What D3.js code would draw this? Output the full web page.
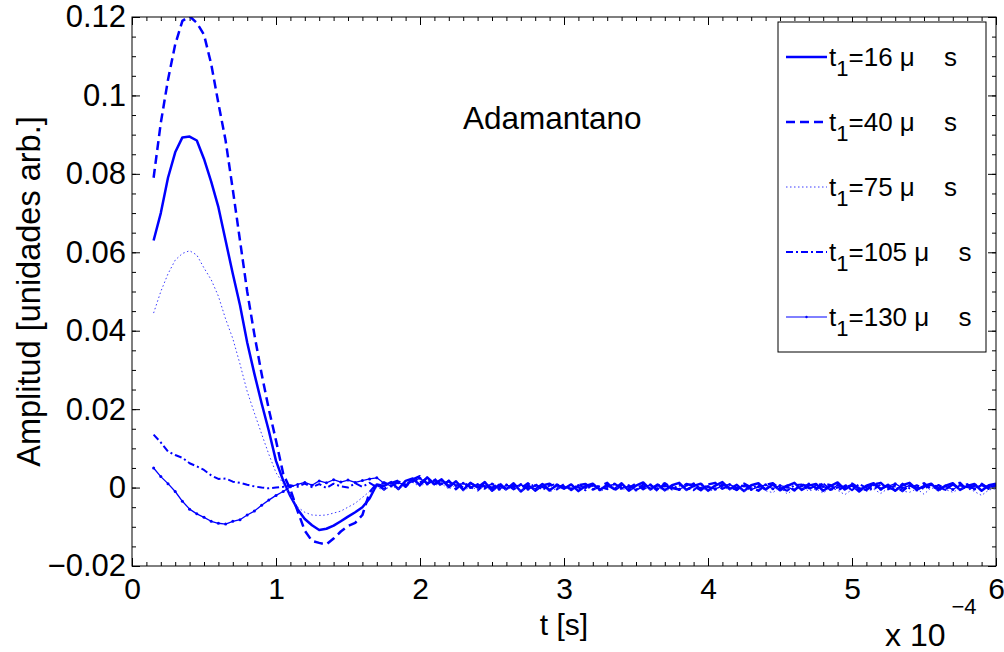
<!DOCTYPE html>
<html>
<head>
<meta charset="utf-8">
<script src="https://cdn.jsdelivr.net/npm/d3@7"></script>
<style>
  body { margin: 0; background: #fff; }
  text { font-family: "Liberation Sans", Arial, Helvetica, sans-serif; }
</style>
</head>
<body>
<div id="chart"></div>
<script>
// sample times (units of 1e-4 s)
const times = [
  0.15, 0.20, 0.25, 0.30, 0.35, 0.40, 0.45, 0.50, 0.55, 0.60,
  0.65, 0.70, 0.75, 0.80, 0.85, 0.90, 0.95, 1.00, 1.05, 1.10,
  1.15, 1.20, 1.25, 1.30, 1.35, 1.40, 1.45, 1.50, 1.55, 1.60,
  1.65, 1.70, 1.75, 1.80, 1.85, 1.90, 1.95, 2.00, 2.05, 2.10,
  2.15, 2.20, 2.25, 2.30, 2.35, 2.40, 2.45, 2.50, 2.55, 2.60,
  2.65, 2.70, 2.75, 2.80, 2.85, 2.90, 2.95, 3.00, 3.05, 3.10,
  3.15, 3.20, 3.25, 3.30, 3.35, 3.40, 3.45, 3.50, 3.55, 3.60,
  3.65, 3.70, 3.75, 3.80, 3.85, 3.90, 3.95, 4.00, 4.05, 4.10,
  4.15, 4.20, 4.25, 4.30, 4.35, 4.40, 4.45, 4.50, 4.55, 4.60,
  4.65, 4.70, 4.75, 4.80, 4.85, 4.90, 4.95, 5.00, 5.05, 5.10,
  5.15, 5.20, 5.25, 5.30, 5.35, 5.40, 5.45, 5.50, 5.55, 5.60,
  5.65, 5.70, 5.75, 5.80, 5.85, 5.90, 5.95, 6.00
];

const amp16 = [
  .063, .070, .079, .0855, .0893, .0895, .0885, .0838, .078, .0715,
  .063, .0545, .0465, .037, .029, .0215, .0145, .0068, .0018, -.0022,
  -.0055, -.0080, -.0096, -.0108, -.0105, -.0097, -.0086, -.0074, -.0063, -.0050,
  -.0028, .0008, .0004, .0014, -.0004, .0017, .0023, .0006, .0026, .0009,
  .0021, .0001, .0016, -.0006, .0012, .0000, .0014, -.0008, .0007, -.0004,
  .0011, -.0010, .0005, -.0005, .0009, -.0007, .0006, -.0003, .0008, -.0009,
  .0004, .0010, -.0006, .0007, -.0004, .0011, -.0008, .0005, .0013, -.0005,
  .0008, -.0007, .0006, .0012, -.0006, .0004, .0010, -.0008, .0005, .0014,
  -.0004, .0007, -.0009, .0006, .0011, -.0005, .0008, -.0007, .0004, .0012,
  -.0006, .0005, .0009, -.0008, .0004, .0013, -.0005, .0006, -.0010, .0005,
  .0011, -.0004, .0007, -.0008, .0006, .0012, -.0005, .0004, .0010, -.0007,
  .0005, .0011, -.0006, .0004, .0009, -.0008, .0006, .0010
];

const amp40 = [
  .079, .093, .104, .113, .119, .1202, .1185, .1155, .108, .098,
  .0885, .076, .063, .050, .039, .029, .020, .012, .0035, -.0005,
  -.0060, -.0110, -.0136, -.0141, -.0145, -.0130, -.0112, -.0098, -.0090, -.0070,
  -.0012, .0010, -.0005, .0011, .0018, .0002, .0021, .0029, .0010, .0022,
  .0004, .0017, -.0004, .0013, .0002, -.0007, .0010, -.0001, .0012, -.0006,
  .0007, -.0002, .0011, -.0008, .0005, .0010, -.0004, .0008, -.0006, .0006,
  .0009, -.0005, .0004, .0012, -.0007, .0006, -.0001, .0010, -.0004, .0007,
  -.0008, .0011, -.0001, -.0005, .0009, .0005, -.0007, .0008, .0012, -.0003,
  .0006, -.0006, .0010, .0000, -.0008, .0007, .0011, -.0004, .0005, -.0007,
  .0009, -.0001, -.0005, .0011, .0006, -.0008, .0004, .0010, -.0002, -.0006,
  .0008, .0012, -.0004, .0005, -.0009, .0007, -.0001, .0011, -.0005, .0006,
  -.0004, .0008, .0012, -.0007, .0005, .0010, -.0003, .0007
];

const amp75 = [
  .0445, .050, .0545, .058, .0597, .0604, .0593, .056, .053, .0488,
  .043, .038, .0315, .0245, .019, .0137, .0085, .0038, .0010, -.0020,
  -.0050, -.0063, -.0070, -.0071, -.0070, -.0065, -.0060, -.0050, -.0040, -.0025,
  -.0010, .0000, -.0006, .0004, -.0003, .0008, .0013, .0002, .0016, .0006,
  .0010, -.0004, .0007, -.0008, .0002, -.0005, .0004, -.0010, .0001, -.0006,
  .0003, -.0009, .0000, -.0005, .0004, -.0011, -.0002, .0002, -.0007, .0001,
  -.0004, .0003, -.0010, -.0001, .0005, -.0006, .0000, -.0008, .0002, -.0005,
  .0001, -.0009, -.0002, .0004, -.0007, -.0001, .0003, -.0011, -.0003, .0002,
  -.0006, .0000, -.0010, -.0002, .0003, -.0008, -.0013, .0001, -.0016, -.0004,
  .0002, -.0009, -.0003, -.0014, .0000, -.0007, -.0018, -.0005, .0001, -.0010,
  -.0004, -.0015, -.0002, .0002, -.0009, -.0012, -.0003, -.0017, .0000, -.0008,
  -.0005, -.0012, -.0002, .0001, -.0010, -.0020, -.0006, -.0003
];

const amp105 = [
  .0135, .0115, .0092, .0083, .0076, .0062, .0054, .0045, .0031, .0022,
  .0023, .0015, .0012, .0007, .0003, .0000, -.0002, .0000, .0002, .0006,
  .0002, .0010, .0001, .0009, -.0001, .0010, .0003, .0000, .0011, .0002,
  .0012, .0001, .0014, .0004, .0016, .0007, .0022, .0013, .0024, .0008,
  .0018, .0005, .0014, .0000, .0011, .0003, -.0003, .0010, .0001, .0008,
  -.0005, .0007, -.0001, .0010, -.0006, .0005, .0009, -.0002, .0007, .0000,
  -.0007, .0008, .0001, -.0004, .0010, -.0001, .0006, -.0006, .0008, -.0002,
  .0005, .0011, -.0005, .0007, .0000, -.0007, .0009, .0001, -.0003, .0008,
  .0000, -.0006, .0009, -.0002, .0007, -.0005, .0010, -.0001, -.0008, .0006,
  .0008, -.0004, .0005, .0011, -.0006, .0000, .0007, -.0007, .0009, -.0001,
  -.0005, .0008, .0000, -.0007, .0010, -.0002, .0006, -.0004, .0008, .0001,
  -.0006, .0007, -.0001, .0009, -.0005, .0006, -.0003, .0008
];

const amp130 = [
  .0050, .0028, .0010, -.0010, -.0035, -.0055, -.0067, -.0076, -.0086, -.0091,
  -.0093, -.0086, -.0082, -.0070, -.0060, -.0045, -.0032, -.0020, -.0010, .0002,
  .0008, .0013, .0006, .0017, .0012, .0020, .0014, .0019, .0013, .0018,
  .0022, .0025, .0011, .0004, .0012, .0007, .0016, .0024, .0009, .0018,
  .0010, .0017, .0005, .0011, .0000, .0008, .0003, .0009, -.0004, .0006,
  .0001, .0008, -.0004, .0005, .0002, -.0006, .0007, .0002, -.0003, .0005,
  .0000, .0006, -.0005, .0003, .0009, -.0002, .0004, -.0006, .0002, .0007,
  -.0003, .0004, .0001, -.0005, .0006, .0010, -.0002, .0003, -.0004, .0005,
  .0008, -.0001, .0004, -.0005, .0002, .0007, -.0003, .0005, .0001, -.0006,
  .0004, .0009, -.0002, .0003, -.0005, .0006, .0001, .0008, -.0003, .0002,
  .0007, -.0004, .0003, .0010, -.0001, .0005, -.0006, .0002, .0007, -.0002,
  .0004, -.0005, .0006, .0002, -.0003, .0008, .0001, .0005
];

const seriesNames = ["16", "40", "75", "105", "130"];
const xTicks = [0, 1, 2, 3, 4, 5, 6];
const xTickLabels = ["0", "1", "2", "3", "4", "5", "6"];
const yTicks = [-0.02, 0, 0.02, 0.04, 0.06, 0.08, 0.1, 0.12];
const yTickLabels = ["\u22120.02", "0", "0.02", "0.04", "0.06", "0.08", "0.1", "0.12"];

const W = 1004, H = 652;
const margin = { top: 17, right: 8, bottom: 86, left: 132 };
const width = W - margin.left - margin.right;
const height = H - margin.top - margin.bottom;

const svg = d3.select("#chart").append("svg")
  .attr("width", W)
  .attr("height", H);

const g = svg.append("g")
  .attr("transform", "translate(" + margin.left + "," + margin.top + ")");

const x = d3.scaleLinear().domain([0, 6]).range([0, width]);
const y = d3.scaleLinear().domain([-0.02, 0.12]).range([height, 0]);

const styles = [
  { w: 2.5, dash: null, color: "#0000ff" },
  { w: 2.5, dash: "9,5", color: "#0000ff" },
  { w: 1, dash: "1.5,2.5", color: "#3a3aff" },
  { w: 2, dash: "7,3,2,3", color: "#0000ff" },
  { w: 1.3, dash: null, color: "#0000ff", dots: true }
];

const allAmps = [amp16, amp40, amp75, amp105, amp130];
const series = allAmps.map((a, i) => ({
  name: seriesNames[i],
  style: styles[i],
  values: times.map((t, j) => [t, a[j]]).filter(d => d[1] !== undefined)
}));

// ticks: minor then major, all pointing inward, on all four sides
const minorX = d3.range(0, 6.001, 0.1);
const minorY = d3.range(-0.02, 0.1201, 0.005);

function styleAxis(sel, size) {
  sel.attr("font-size", null).attr("font-family", null);
  sel.select(".domain").remove();
  sel.selectAll("line").attr("stroke", "#000");
  sel.selectAll("text")
    .attr("fill", "#000")
    .style("font-size", (size || 31) + "px")
    .style("font-family", "'Liberation Sans', Arial, Helvetica, sans-serif");
}

g.append("g").attr("transform", "translate(0," + height + ")")
  .call(d3.axisBottom(x).tickValues(minorX).tickFormat("").tickSizeInner(-4).tickSizeOuter(0))
  .call(styleAxis);
g.append("g")
  .call(d3.axisTop(x).tickValues(minorX).tickFormat("").tickSizeInner(-4).tickSizeOuter(0))
  .call(styleAxis);
g.append("g")
  .call(d3.axisLeft(y).tickValues(minorY).tickFormat("").tickSizeInner(-4).tickSizeOuter(0))
  .call(styleAxis);
g.append("g").attr("transform", "translate(" + width + ",0)")
  .call(d3.axisRight(y).tickValues(minorY).tickFormat("").tickSizeInner(-4).tickSizeOuter(0))
  .call(styleAxis);

g.append("g").attr("transform", "translate(0," + height + ")")
  .call(d3.axisBottom(x).tickValues(xTicks).tickFormat((d, i) => xTickLabels[i])
    .tickSizeInner(-8).tickSizeOuter(0).tickPadding(12))
  .call(styleAxis, 30);
g.append("g")
  .call(d3.axisTop(x).tickValues(xTicks).tickFormat("").tickSizeInner(-8).tickSizeOuter(0))
  .call(styleAxis);
g.append("g")
  .call(d3.axisLeft(y).tickValues(yTicks).tickFormat((d, i) => yTickLabels[i])
    .tickSizeInner(-8).tickSizeOuter(0).tickPadding(6))
  .call(styleAxis, 31);
g.append("g").attr("transform", "translate(" + width + ",0)")
  .call(d3.axisRight(y).tickValues(yTicks).tickFormat("").tickSizeInner(-8).tickSizeOuter(0))
  .call(styleAxis);

g.append("defs").append("clipPath").attr("id", "plotclip")
  .append("rect").attr("width", width).attr("height", height);

const line = d3.line()
  .x(d => x(d[0]))
  .y(d => y(d[1]));

const plot = g.append("g").attr("clip-path", "url(#plotclip)");

plot.selectAll("path.series")
  .data(series)
  .join("path")
  .attr("class", "series")
  .attr("fill", "none")
  .attr("stroke", d => d.style.color)
  .attr("stroke-width", d => d.style.w)
  .attr("stroke-dasharray", d => d.style.dash)
  .attr("stroke-linejoin", "round")
  .attr("d", d => line(d.values));

// dot markers for the last series
plot.append("g")
  .selectAll("circle")
  .data(series[4].values)
  .join("circle")
  .attr("cx", d => x(d[0]))
  .attr("cy", d => y(d[1]))
  .attr("r", 1.5)
  .attr("fill", "#0000ff");

// box
g.append("rect")
  .attr("width", width)
  .attr("height", height)
  .attr("fill", "none")
  .attr("stroke", "#000")
  .attr("stroke-width", 1);

// annotation
g.append("text")
  .attr("x", 463 - margin.left)
  .attr("y", 129 - margin.top)
  .attr("font-size", 31.5)
  .text("Adamantano");

// axis labels
svg.append("text")
  .attr("x", margin.left + width / 2)
  .attr("y", 635)
  .attr("text-anchor", "middle")
  .attr("font-size", 30)
  .text("t [s]");

svg.append("text")
  .attr("transform", "translate(40," + (margin.top + height / 2) + ") rotate(-90)")
  .attr("text-anchor", "middle")
  .attr("font-size", 32.5)
  .text("Amplitud [unidades arb.]");

const expo = svg.append("text")
  .attr("x", 885)
  .attr("y", 646)
  .attr("font-size", 32);
expo.append("tspan").text("x 10");
expo.append("tspan").attr("dx", 6).attr("dy", -32).attr("font-size", 22).text("\u22124");

// legend
const legend = svg.append("g").attr("transform", "translate(778,22)");
legend.append("rect")
  .attr("width", 208)
  .attr("height", 330)
  .attr("fill", "#fff")
  .attr("stroke", "#000")
  .attr("stroke-width", 1);

const rows = legend.selectAll("g.row")
  .data(series)
  .join("g")
  .attr("class", "row")
  .attr("transform", (d, i) => "translate(0," + (35 + i * 65) + ")");

rows.append("line")
  .attr("x1", 8).attr("x2", 49)
  .attr("stroke", d => d.style.color)
  .attr("stroke-width", d => d.style.dots ? 1 : d.style.w)
  .attr("stroke-dasharray", d => d.style.dash);

rows.filter(d => d.style.dots).append("circle")
  .attr("cx", 28.5).attr("r", 1.2).attr("fill", "#0000ff");

const lt = rows.append("text")
  .attr("x", 51)
  .attr("y", 9)
  .attr("font-size", 26);
lt.append("tspan").text("t");
lt.append("tspan").attr("font-size", 22).attr("dy", 10).text("1");
lt.append("tspan").attr("dy", -10).text(d => "=" + d.name + " \u03bc");
rows.append("text")
  .attr("x", d => 166 + 14.5 * (d.name.length - 2))
  .attr("y", 9)
  .attr("font-size", 26)
  .text("s");
</script>
</body>
</html>
